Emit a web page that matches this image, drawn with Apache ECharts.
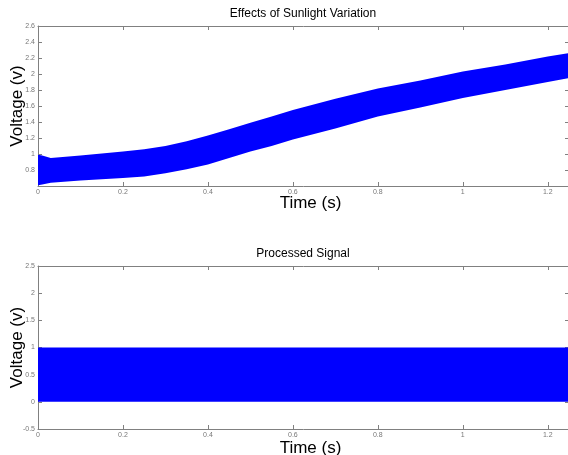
<!DOCTYPE html>
<html>
<head>
<meta charset="utf-8">
<script src="https://cdn.jsdelivr.net/npm/echarts@6/dist/echarts.min.js"></script>
<style>
  html, body { margin: 0; padding: 0; background: #fff; }
  #chart { width: 568px; height: 455px; }
</style>
</head>
<body>
<div id="chart"></div>
<script>
// 上图: 光照变化下的电压包络
const timeTop = [0, 0.01, 0.03, 0.1, 0.2, 0.25, 0.3, 0.35, 0.4, 0.45, 0.5, 0.55, 0.6, 0.7, 0.8, 0.9, 1.0, 1.1, 1.2, 1.25]
const topUpper = [0.99, 0.98, 0.95, 0.98, 1.03, 1.06, 1.1, 1.16, 1.23, 1.31, 1.39, 1.47, 1.55, 1.69, 1.82, 1.92, 2.03, 2.12, 2.22, 2.26]
const topLower = [0.61, 0.62, 0.64, 0.67, 0.7, 0.72, 0.76, 0.81, 0.87, 0.95, 1.03, 1.1, 1.18, 1.32, 1.47, 1.58, 1.7, 1.8, 1.9, 1.95]

// 下图: 处理后的信号
const timeBottom = [0, 1.25]
const bottomUpper = [1, 1]
const bottomLower = [0, 0]

// 坐标轴刻度
const timeTicks = [0, 0.2, 0.4, 0.6, 0.8, 1, 1.2]
const timeMax = 1.25
const topTicks = [0.6, 0.8, 1, 1.2, 1.4, 1.6, 1.8, 2, 2.2, 2.4, 2.6]
const bottomTicks = [-0.5, 0, 0.5, 1, 1.5, 2, 2.5]

const FONT = 'Liberation Sans'
const GRAY = '#808080'

// 去掉浮点误差
const fmt = v => String(parseFloat(v.toFixed(2)))

// 包络带 -> 多边形
function bandSeries(idx, times, upper, lower) {
  return {
    type: 'custom',
    xAxisIndex: idx * 2,
    yAxisIndex: idx * 2,
    silent: true,
    data: [[times[0], lower[0]]],
    renderItem: function (params, api) {
      const pts = []
      times.forEach((t, i) => pts.push(api.coord([t, upper[i]])))
      for (let i = times.length - 1; i >= 0; i--) {
        pts.push(api.coord([times[i], lower[i]]))
      }
      return { type: 'polygon', shape: { points: pts }, style: { fill: '#0000ff' } }
    }
  }
}

function xAxes(g) {
  const base = {
    type: 'value', gridIndex: g, min: timeTicks[0], max: timeMax,
    interval: timeTicks[1] - timeTicks[0],
    splitLine: { show: false },
    axisLine: { onZero: false, lineStyle: { color: GRAY, width: 1 } },
    axisTick: { inside: true, length: 4, lineStyle: { color: GRAY } }
  }
  return [
    Object.assign({}, base, {
      position: 'bottom',
      axisLabel: { fontSize: 7, color: '#777', margin: 3, fontFamily: FONT, showMaxLabel: false, formatter: fmt },
      name: 'Time (s)', nameLocation: 'middle', nameGap: g === 0 ? 9 : 11, nameMoveOverlap: false,
      nameTextStyle: { fontSize: 17, color: '#000', fontFamily: FONT, padding: [0, 0, 0, 14] }
    }),
    Object.assign({}, base, { position: 'top', axisLabel: { show: false } })
  ]
}

function yAxes(g, ticks) {
  const base = {
    type: 'value', gridIndex: g, min: ticks[0], max: ticks[ticks.length - 1],
    interval: ticks[1] - ticks[0],
    splitLine: { show: false },
    axisLine: { onZero: false, lineStyle: { color: GRAY, width: 1 } },
    axisTick: { inside: true, length: 4, lineStyle: { color: GRAY } }
  }
  return [
    Object.assign({}, base, {
      position: 'left',
      axisLabel: { fontSize: 7, color: '#777', margin: 3, fontFamily: FONT, showMinLabel: g === 1, formatter: fmt },
      name: 'Voltage (v)', nameLocation: 'middle', nameGap: 12, nameMoveOverlap: false,
      nameTextStyle: { fontSize: 17, color: '#000', fontFamily: FONT }
    }),
    Object.assign({}, base, { position: 'right', axisLabel: { show: false } })
  ]
}

const chart = echarts.init(document.getElementById('chart'))

chart.setOption({
  animation: false,
  backgroundColor: '#fff',
  title: [
    {
      text: 'Effects of Sunlight Variation', left: 303, top: 8, textAlign: 'center', padding: 0,
      textStyle: { fontSize: 12, fontWeight: 'normal', color: '#000', fontFamily: FONT }
    },
    {
      text: 'Processed Signal', left: 303, top: 248, textAlign: 'center', padding: 0,
      textStyle: { fontSize: 12, fontWeight: 'normal', color: '#000', fontFamily: FONT }
    }
  ],
  grid: [
    { left: 38, top: 26, right: -1, height: 160, containLabel: false, outerBoundsMode: 'none' },
    { left: 38, top: 266, right: -1, height: 163, containLabel: false, outerBoundsMode: 'none' }
  ],
  xAxis: [...xAxes(0), ...xAxes(1)],
  yAxis: [...yAxes(0, topTicks), ...yAxes(1, bottomTicks)],
  series: [
    bandSeries(0, timeTop, topUpper, topLower),
    bandSeries(1, timeBottom, bottomUpper, bottomLower)
  ]
})
</script>
</body>
</html>
